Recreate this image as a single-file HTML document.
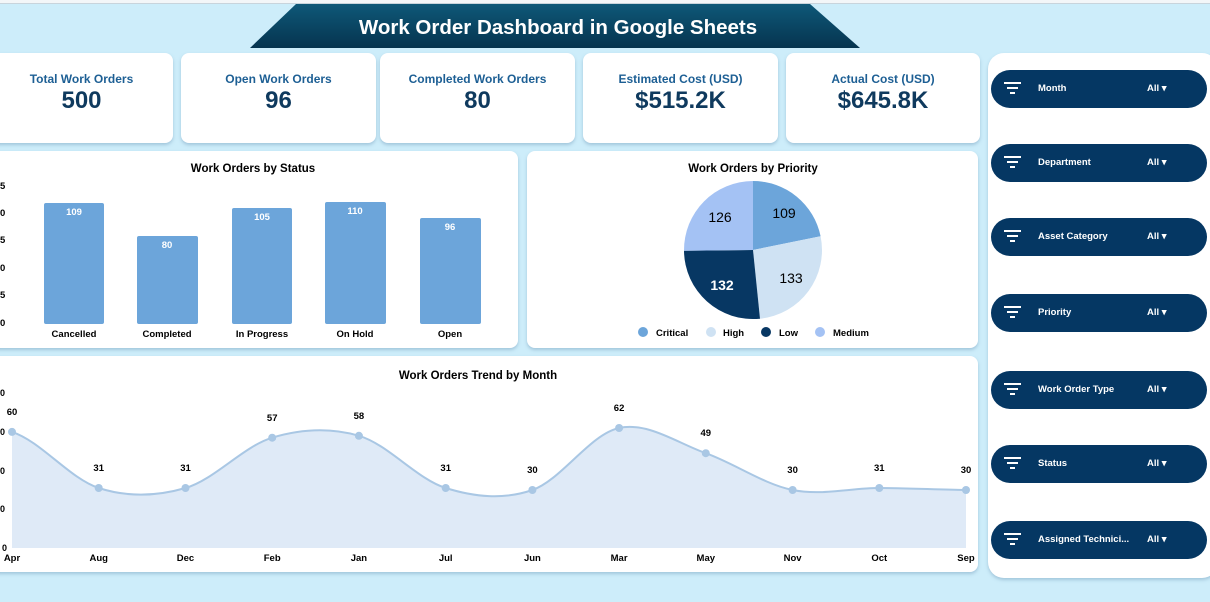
<!DOCTYPE html><html><head><style>
body{margin:0;width:1210px;height:602px;background:#cdedfa;font-family:"Liberation Sans",sans-serif;position:relative;overflow:hidden}
.card{position:absolute;background:#fff;border-radius:8px;box-shadow:0 2px 3px rgba(120,160,190,.5)}
.kpi{text-align:center}
.kpi .t{color:#1d5f94;font-size:12px;font-weight:bold;margin-top:19px}
.kpi .v{color:#0f3a5e;font-size:24px;font-weight:bold;margin-top:1px}
.pill{position:absolute;left:991px;width:216px;height:38px;background:#053763;border-radius:19px;color:#fff;font-size:9.5px;font-weight:bold}
.pill .n{position:absolute;left:47px;top:13px}
.pill .a{position:absolute;left:156px;top:13px}
.pill svg{position:absolute;left:13px;top:12px}
</style></head><body>
<div style="position:absolute;left:0;top:0;width:1210px;height:3px;border-bottom:1px solid #c8d4dc;background:#f3f6f8"></div>
<svg style="position:absolute;left:0;top:0" width="1210" height="50"><defs><linearGradient id="g" x1="0" y1="0" x2="0" y2="1"><stop offset="0" stop-color="#0e5878"/><stop offset="1" stop-color="#06344f"/></linearGradient></defs><polygon points="296,4 810,4 860,48 250,48" fill="url(#g)"/><text x="558" y="34" text-anchor="middle" font-family="Liberation Sans" font-weight="bold" font-size="20.5" fill="#fff">Work Order Dashboard in Google Sheets</text></svg>
<div class="card kpi" style="left:-10px;top:53px;width:183px;height:90px"><div class="t">Total Work Orders</div><div class="v">500</div></div>
<div class="card kpi" style="left:181px;top:53px;width:195px;height:90px"><div class="t">Open Work Orders</div><div class="v">96</div></div>
<div class="card kpi" style="left:380px;top:53px;width:195px;height:90px"><div class="t">Completed Work Orders</div><div class="v">80</div></div>
<div class="card kpi" style="left:583px;top:53px;width:195px;height:90px"><div class="t">Estimated Cost (USD)</div><div class="v">$515.2K</div></div>
<div class="card kpi" style="left:786px;top:53px;width:194px;height:90px"><div class="t">Actual Cost (USD)</div><div class="v">$645.8K</div></div>
<div class="card" style="left:-10px;top:151px;width:528px;height:197px"></div>
<div class="card" style="left:527px;top:151px;width:451px;height:197px"></div>
<div class="card" style="left:-10px;top:356px;width:988px;height:216px"></div>
<div class="card" style="left:988px;top:53px;width:230px;height:525px;border-radius:16px"></div>
<svg style="position:absolute;left:0;top:0" width="1210" height="602" font-family="Liberation Sans" font-size="9.5" font-weight="bold">
<text x="253" y="172" text-anchor="middle" font-size="11.5">Work Orders by Status</text>
<g fill="#000"><text x="0" y="189">5</text><text x="0" y="216">0</text><text x="0" y="243">5</text><text x="0" y="271">0</text><text x="0" y="298">5</text><text x="0" y="326">0</text></g>
<g fill="#6ca5da"><rect x="44" y="203" width="60" height="121" rx="2"/><rect x="137" y="236" width="61" height="88" rx="2"/><rect x="232" y="208" width="60" height="116" rx="2"/><rect x="325" y="202" width="61" height="122" rx="2"/><rect x="420" y="218" width="61" height="106" rx="2"/></g>
<g fill="#fff" text-anchor="middle"><text x="74" y="215">109</text><text x="167" y="248">80</text><text x="262" y="220">105</text><text x="355" y="214">110</text><text x="450" y="230">96</text></g>
<g text-anchor="middle" font-size="9.5"><text x="74" y="337">Cancelled</text><text x="167" y="337">Completed</text><text x="262" y="337">In Progress</text><text x="355" y="337">On Hold</text><text x="450" y="337">Open</text></g>
<text x="753" y="172" text-anchor="middle" font-size="11.5">Work Orders by Priority</text>
<path d="M753,250 L753,181 A69,69 0 0 1 820.6,236.3Z" fill="#6ca5da"/>
<path d="M753,250 L820.6,236.3 A69,69 0 0 1 760,318.7Z" fill="#cfe2f3"/>
<path d="M753,250 L760,318.7 A69,69 0 0 1 684,250.8Z" fill="#073763"/>
<path d="M753,250 L684,250.8 A69,69 0 0 1 753,181Z" fill="#a4c2f4"/>
<g font-weight="normal" font-size="14" text-anchor="middle"><text x="784" y="218">109</text><text x="720" y="222">126</text><text x="791" y="283">133</text><text x="722" y="290" fill="#fff" font-weight="bold">132</text></g>
<g font-size="9.5"><circle cx="643" cy="332" r="5" fill="#6ca5da"/><text x="656" y="336">Critical</text><circle cx="711" cy="332" r="5" fill="#cfe2f3"/><text x="723" y="336">High</text><circle cx="766" cy="332" r="5" fill="#073763"/><text x="779" y="336">Low</text><circle cx="820" cy="332" r="5" fill="#a4c2f4"/><text x="833" y="336">Medium</text></g>
<text x="478" y="379" text-anchor="middle" font-size="11.5">Work Orders Trend by Month</text>
<g font-size="9"><text x="0" y="396">0</text><text x="0" y="435">0</text><text x="0" y="474">0</text><text x="0" y="512">0</text><text x="2" y="551">0</text></g>
<path d="M12,431.9 C40.9,441.25 69.8,478.65 98.7,488 C127.6,497.35 156.6,496.38 185.5,488 C214.4,479.62 243.3,446.4 272.2,437.7 C301.1,429 330,427.42 358.9,435.8 C387.8,444.18 416.8,478.97 445.7,488 C474.6,497.03 503.5,500 532.4,490 C561.3,480 590.2,434.13 619.1,428 C648,421.87 676.9,442.87 705.8,453.2 C734.7,463.53 763.7,484.2 792.6,490 C821.5,495.8 850.4,488 879.3,488 C908.2,488 937.1,489.67 966,490 L966,548 L12,548Z" fill="#dfeaf7"/>
<path d="M12,431.9 C40.9,441.25 69.8,478.65 98.7,488 C127.6,497.35 156.6,496.38 185.5,488 C214.4,479.62 243.3,446.4 272.2,437.7 C301.1,429 330,427.42 358.9,435.8 C387.8,444.18 416.8,478.97 445.7,488 C474.6,497.03 503.5,500 532.4,490 C561.3,480 590.2,434.13 619.1,428 C648,421.87 676.9,442.87 705.8,453.2 C734.7,463.53 763.7,484.2 792.6,490 C821.5,495.8 850.4,488 879.3,488 C908.2,488 937.1,489.67 966,490" fill="none" stroke="#a9c7e4" stroke-width="2"/>
<g fill="#a9c7e4"><circle cx="12" cy="431.9" r="4"/><circle cx="98.7" cy="488" r="4"/><circle cx="185.5" cy="488" r="4"/><circle cx="272.2" cy="437.7" r="4"/><circle cx="358.9" cy="435.8" r="4"/><circle cx="445.7" cy="488" r="4"/><circle cx="532.4" cy="490" r="4"/><circle cx="619.1" cy="428" r="4"/><circle cx="705.8" cy="453.2" r="4"/><circle cx="792.6" cy="490" r="4"/><circle cx="879.3" cy="488" r="4"/><circle cx="966" cy="490" r="4"/></g>
<g text-anchor="middle" font-size="9.5"><text x="12" y="415">60</text><text x="98.7" y="471">31</text><text x="185.5" y="471">31</text><text x="272.2" y="421">57</text><text x="358.9" y="419">58</text><text x="445.7" y="471">31</text><text x="532.4" y="473">30</text><text x="619.1" y="411">62</text><text x="705.8" y="436">49</text><text x="792.6" y="473">30</text><text x="879.3" y="471">31</text><text x="966" y="473">30</text></g>
<g text-anchor="middle" font-size="9.5"><text x="12" y="561">Apr</text><text x="98.7" y="561">Aug</text><text x="185.5" y="561">Dec</text><text x="272.2" y="561">Feb</text><text x="358.9" y="561">Jan</text><text x="445.7" y="561">Jul</text><text x="532.4" y="561">Jun</text><text x="619.1" y="561">Mar</text><text x="705.8" y="561">May</text><text x="792.6" y="561">Nov</text><text x="879.3" y="561">Oct</text><text x="966" y="561">Sep</text></g>
</svg>
<div class="pill" style="top:70px"><svg width="18" height="14"><path d="M0,1H17M3,6H14M6,11H11" stroke="#fff" stroke-width="2"/></svg><span class="n">Month</span><span class="a">All ▾</span></div>
<div class="pill" style="top:144px"><svg width="18" height="14"><path d="M0,1H17M3,6H14M6,11H11" stroke="#fff" stroke-width="2"/></svg><span class="n">Department</span><span class="a">All ▾</span></div>
<div class="pill" style="top:218px"><svg width="18" height="14"><path d="M0,1H17M3,6H14M6,11H11" stroke="#fff" stroke-width="2"/></svg><span class="n">Asset Category</span><span class="a">All ▾</span></div>
<div class="pill" style="top:294px"><svg width="18" height="14"><path d="M0,1H17M3,6H14M6,11H11" stroke="#fff" stroke-width="2"/></svg><span class="n">Priority</span><span class="a">All ▾</span></div>
<div class="pill" style="top:371px"><svg width="18" height="14"><path d="M0,1H17M3,6H14M6,11H11" stroke="#fff" stroke-width="2"/></svg><span class="n">Work Order Type</span><span class="a">All ▾</span></div>
<div class="pill" style="top:445px"><svg width="18" height="14"><path d="M0,1H17M3,6H14M6,11H11" stroke="#fff" stroke-width="2"/></svg><span class="n">Status</span><span class="a">All ▾</span></div>
<div class="pill" style="top:521px"><svg width="18" height="14"><path d="M0,1H17M3,6H14M6,11H11" stroke="#fff" stroke-width="2"/></svg><span class="n">Assigned Technici...</span><span class="a">All ▾</span></div>
</body></html>
